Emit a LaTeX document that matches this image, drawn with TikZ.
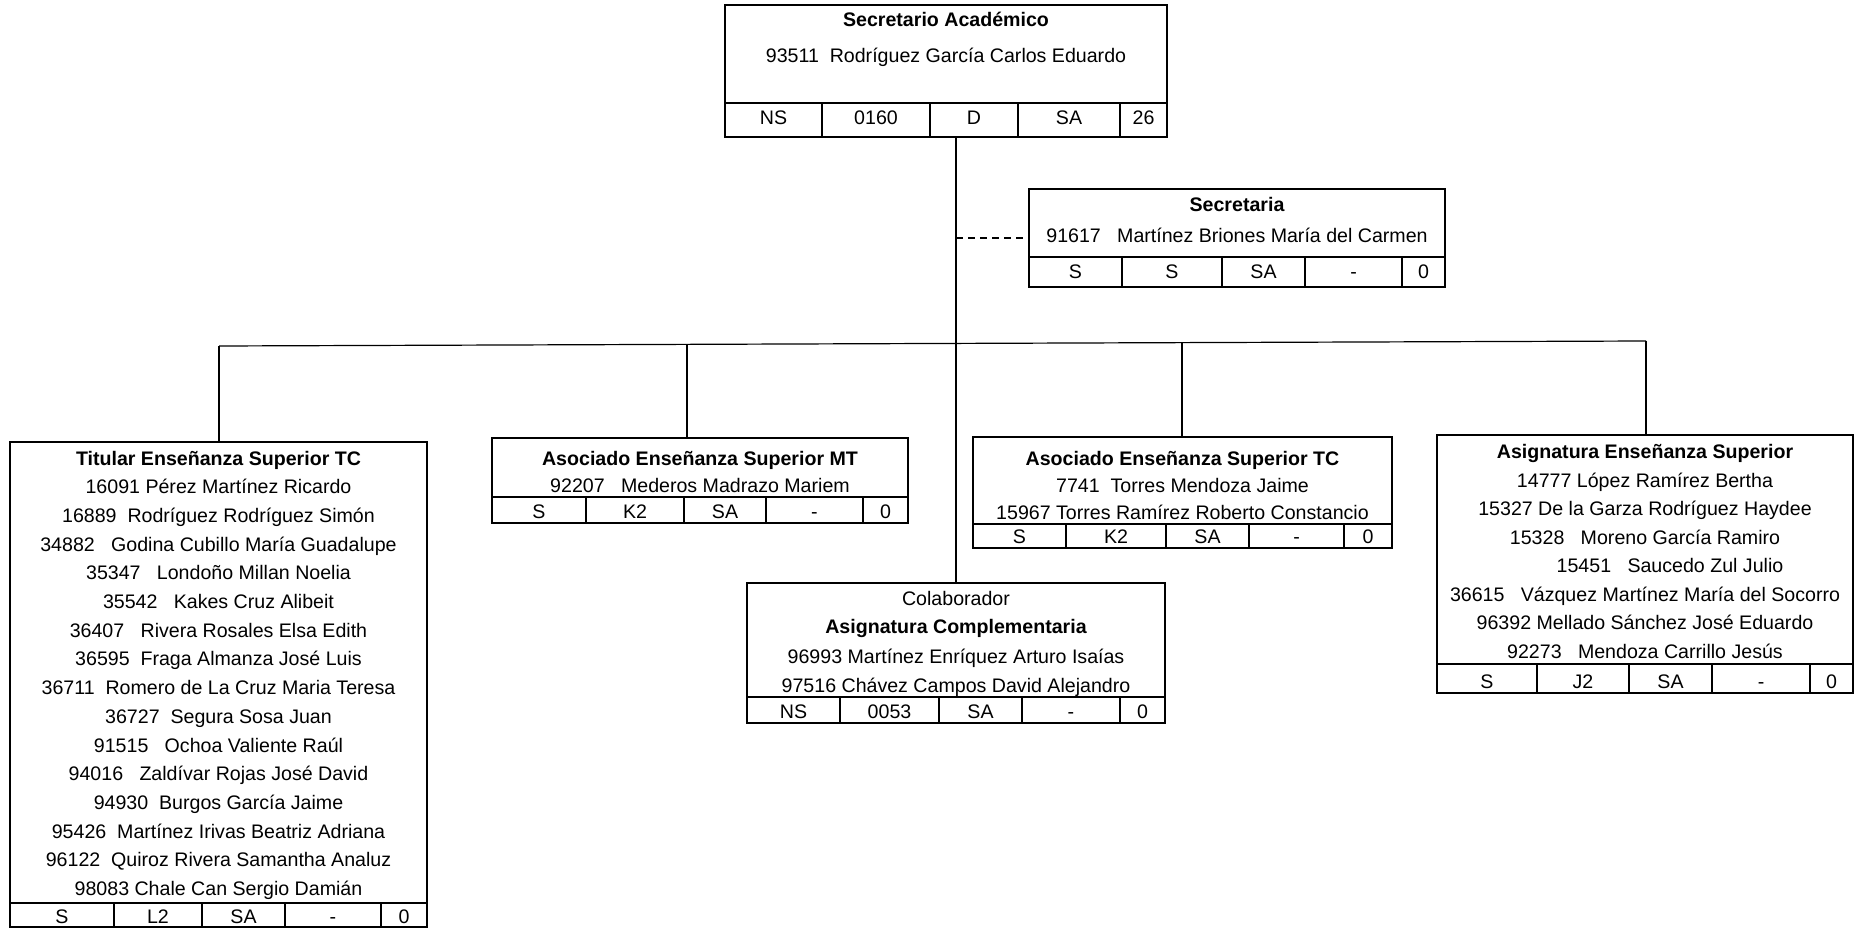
\documentclass[tikz,border=0pt]{standalone}
\usepackage{fontspec}
\setmainfont{Liberation Sans}
\usetikzlibrary{fit}
\tikzset{
  box/.style={draw, line width=2.2pt, inner sep=0pt},
  div/.style={line width=1.5pt},
  conn/.style={line width=1.2pt},
  txt/.style={anchor=base, inner sep=0pt, font=\fontsize{19.6}{23}\selectfont},
  ttl/.style={txt, font=\fontsize{19.6}{23}\selectfont\bfseries},
}
\newcommand{\brow}[8]{%
  \draw[div] (#1,#3) -- (#2,#3);
  \foreach \xx in {#6} {\draw[div] (\xx,#3) -- (\xx,#4);}
  \foreach \cc/\lab [count=\i] in {#7} {\node[txt] (#8-c\i) at (\cc,#5) {\lab};}
}
\begin{document}
\begin{tikzpicture}[x=1pt, y=-1pt]
\useasboundingbox (0,0) rectangle (1855,928);

% Boxes
\node[box, fit={(725,5) (1167,137)}] (top) {};
\node[box, fit={(1029,189) (1445,287)}] (sec) {};
\node[box, fit={(10,442) (427,927)}] (tit) {};
\node[box, fit={(492,438) (908,523)}] (mt) {};
\node[box, fit={(973,437) (1392,548)}] (tc) {};
\node[box, fit={(1437,435) (1853,693)}] (asig) {};
\node[box, fit={(747,583) (1165,723)}] (colab) {};

% Top box
\node[ttl] (top-t) at (946,27) {Secretario Académico};
\node[txt] (top-n) at (946,63) {93511\ \ Rodríguez García Carlos Eduardo};
\brow{725}{1167}{103}{137}{125}{822,930,1018,1120}{773.5/NS,876/0160,974/D,1069/SA,1143.5/26}{top}

% Secretaria
\node[ttl] (sec-t) at (1237,212) {Secretaria};
\node[txt] (sec-n) at (1237,242) {91617\ \ \ Martínez Briones María del Carmen};
\brow{1029}{1445}{257}{287}{278}{1122,1222,1305,1402}{1075.5/S,1172/S,1263.5/SA,1353.5/-,1423.5/0}{sec}

% Titular
\node[ttl] (tit-t) at (218.5,465) {Titular Enseñanza Superior TC};
\foreach \nm [count=\k] in {
  16091 Pérez Martínez Ricardo,
  16889\ \ Rodríguez Rodríguez Simón,
  34882\ \ \ Godina Cubillo María Guadalupe,
  35347\ \ \ Londoño Millan Noelia,
  35542\ \ \ Kakes Cruz Alibeit,
  36407\ \ \ Rivera Rosales Elsa Edith,
  36595\ \ Fraga Almanza José Luis,
  36711\ \ Romero de La Cruz Maria Teresa,
  36727\ \ Segura Sosa Juan,
  91515\ \ \ Ochoa Valiente Raúl,
  94016\ \ \ Zaldívar Rojas José David,
  94930\ \ Burgos García Jaime,
  95426\ \ Martínez Irivas Beatriz Adriana,
  96122\ \ Quiroz Rivera Samantha Analuz,
  98083 Chale Can Sergio Damián}
  {\node[txt] (tit-n\k) at (218.5,{465+28.7*\k}) {\nm};}
\brow{10}{427}{903}{927}{923}{114,202,285,381}{62/S,158/L2,243.5/SA,333/-,404/0}{tit}

% Asociado MT
\node[ttl] (mt-t) at (700,465) {Asociado Enseñanza Superior MT};
\node[txt] (mt-n) at (700,492) {92207\ \ \ Mederos Madrazo Mariem};
\brow{492}{908}{497}{523}{518}{586,684,766,863}{539/S,635/K2,725/SA,814.5/-,885.5/0}{mt}

% Asociado TC
\node[ttl] (tc-t) at (1182.5,465) {Asociado Enseñanza Superior TC};
\node[txt] (tc-n1) at (1182.5,492) {7741\ \ Torres Mendoza Jaime};
\node[txt] (tc-n2) at (1182.5,519) {15967 Torres Ramírez Roberto Constancio};
\brow{973}{1392}{524}{548}{543}{1066,1166,1249,1344}{1019.5/S,1116/K2,1207.5/SA,1296.5/-,1368/0}{tc}

% Asignatura
\node[ttl] (as-t) at (1645,458) {Asignatura Enseñanza Superior};
\node[txt] (as-n1) at (1645,487) {14777 López Ramírez Bertha};
\node[txt] (as-n2) at (1645,515.5) {15327 De la Garza Rodríguez Haydee};
\node[txt] (as-n3) at (1645,544) {15328\ \ \ Moreno García Ramiro};
\node[txt] (as-n4) at (1670,572.5) {15451\ \ \ Saucedo Zul Julio};
\node[txt] (as-n5) at (1645,601) {36615\ \ \ Vázquez Martínez María del Socorro};
\node[txt] (as-n6) at (1645,629.5) {96392 Mellado Sánchez José Eduardo};
\node[txt] (as-n7) at (1645,658) {92273\ \ \ Mendoza Carrillo Jesús};
\brow{1437}{1853}{664}{693}{688}{1537,1629,1712,1810}{1487/S,1583/J2,1670.5/SA,1761/-,1831.5/0}{asig}

% Colaborador
\node[txt] (co-t0) at (956,605) {Colaborador};
\node[ttl] (co-t) at (956,633) {Asignatura Complementaria};
\node[txt] (co-n1) at (956,663) {96993 Martínez Enríquez Arturo Isaías};
\node[txt] (co-n2) at (956,692) {97516 Chávez Campos David Alejandro};
\brow{747}{1165}{697}{723}{718}{840,939,1022,1120}{793.5/NS,889.5/0053,980.5/SA,1071/-,1142.5/0}{colab}

% Connectors
\coordinate (hl) at (219,346);
\coordinate (hr) at (1646,341);
\coordinate (mtc) at (687,344.5);
\coordinate (tcc) at (1182,342.5);
\draw[conn] (top.south -| colab.north) -- (colab.north);
\draw[conn, dash pattern=on 7pt off 5pt] (sec.west -| colab.north) -- (sec.west);
\draw[conn] (hl) -- (hr);
\draw[conn] (hl) -- (hl |- tit.north);
\draw[conn] (mtc) -- (mtc |- mt.north);
\draw[conn] (tcc) -- (tcc |- tc.north);
\draw[conn] (hr) -- (hr |- asig.north);
\end{tikzpicture}
\end{document}
